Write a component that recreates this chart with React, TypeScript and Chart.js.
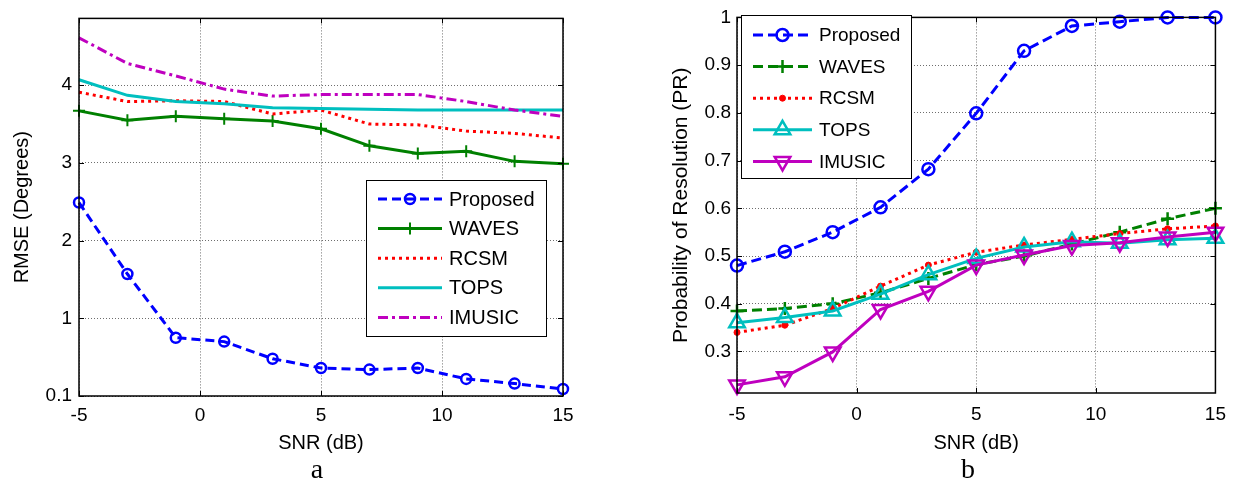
import React, { useEffect, useRef } from 'react';
import { Chart, registerables } from 'chart.js';

Chart.register(...registerables);

const FONT = "'Liberation Sans', Arial, Helvetica, sans-serif";

// ---------- data ----------
const snr = [-5, -3, -1, 1, 3, 5, 7, 9, 11, 13, 15];
const xTickValues = [-5, 0, 5, 10, 15];
const seriesNames = ['Proposed', 'WAVES', 'RCSM', 'TOPS', 'IMUSIC'];

// panel a: RMSE (Degrees)
const rmseProposed = [2.49, 1.57, 0.75, 0.7, 0.48, 0.36, 0.34, 0.36, 0.22, 0.16, 0.09];
const rmseWaves = [3.67, 3.55, 3.6, 3.57, 3.54, 3.44, 3.22, 3.12, 3.15, 3.02, 2.99];
const rmseRcsm = [3.91, 3.79, 3.8, 3.79, 3.63, 3.68, 3.5, 3.49, 3.41, 3.38, 3.32];
const rmseTops = [4.07, 3.87, 3.79, 3.76, 3.71, 3.7, 3.69, 3.68, 3.68, 3.68, 3.68];
const rmseImusic = [4.61, 4.28, 4.12, 3.95, 3.86, 3.88, 3.88, 3.88, 3.79, 3.68, 3.6];
const rmseTickValues = [0, 1, 2, 3, 4];
const rmseTickLabels = ['0.1', '1', '2', '3', '4'];

// panel b: Probability of Resolution (PR)
const prProposed = [0.48, 0.509, 0.55, 0.602, 0.682, 0.799, 0.93, 0.982, 0.991, 1.0, 1.0];
const prWaves = [0.385, 0.39, 0.4, 0.423, 0.453, 0.482, 0.5, 0.525, 0.55, 0.578, 0.6];
const prRcsm = [0.34, 0.355, 0.39, 0.437, 0.481, 0.508, 0.523, 0.535, 0.547, 0.557, 0.563];
const prTops = [0.36, 0.371, 0.385, 0.42, 0.461, 0.495, 0.519, 0.53, 0.527, 0.534, 0.537];
const prImusic = [0.23, 0.247, 0.299, 0.388, 0.426, 0.481, 0.502, 0.522, 0.528, 0.54, 0.55];
const prTickValues = [0.3, 0.4, 0.5, 0.6, 0.7, 0.8, 0.9, 1.0];
const prTickLabels = ['0.3', '0.4', '0.5', '0.6', '0.7', '0.8', '0.9', '1'];

// ---------- colours ----------
const BLUE = '#0000FF';
const GREEN = '#008000';
const RED = '#FF0000';
const CYAN = '#00BFBF';
const MAGENTA = '#BF00BF';

const pts = (ys: number[]) => snr.map((x, i) => ({ x, y: ys[i] }));

function drawMarker(ctx: CanvasRenderingContext2D, ds: any, x: number, y: number) {
  const r = ds.pointRadius || 0;
  if (!r) return;
  const style = ds.pointStyle || 'circle';
  const rot = ((ds.pointRotation || 0) * Math.PI) / 180;
  ctx.save();
  ctx.setLineDash([]);
  ctx.lineWidth = ds.pointBorderWidth ?? 1;
  ctx.strokeStyle = ds.pointBorderColor || ds.borderColor;
  ctx.fillStyle = ds.pointBackgroundColor || 'transparent';
  ctx.beginPath();
  if (style === 'circle') {
    ctx.arc(x, y, r, 0, Math.PI * 2);
    ctx.fill();
    ctx.stroke();
  } else if (style === 'cross') {
    ctx.moveTo(x, y - r);
    ctx.lineTo(x, y + r);
    ctx.moveTo(x - r, y);
    ctx.lineTo(x + r, y);
    ctx.stroke();
  } else if (style === 'triangle') {
    let a = rot;
    ctx.moveTo(x + Math.sin(a) * r, y - Math.cos(a) * r);
    a += (2 * Math.PI) / 3;
    ctx.lineTo(x + Math.sin(a) * r, y - Math.cos(a) * r);
    a += (2 * Math.PI) / 3;
    ctx.lineTo(x + Math.sin(a) * r, y - Math.cos(a) * r);
    ctx.closePath();
    ctx.fill();
    ctx.stroke();
  }
  ctx.restore();
}

const framePlugin = {
  id: 'matlabFrame',
  afterDraw(chart: any, _args: any, opts: any) {
    const ctx: CanvasRenderingContext2D = chart.ctx;
    const { left, right, top, bottom } = chart.chartArea;
    const xs = chart.scales.x;
    const ys = chart.scales.y;
    ctx.save();
    ctx.setLineDash([]);
    ctx.strokeStyle = '#000';
    ctx.lineWidth = 1;
    const tl = 5;
    ctx.beginPath();
    xs.ticks.forEach((t: any) => {
      const px = Math.round(xs.getPixelForValue(t.value)) + 0.5;
      ctx.moveTo(px, bottom);
      ctx.lineTo(px, bottom - tl);
      ctx.moveTo(px, top);
      ctx.lineTo(px, top + tl);
    });
    ys.ticks.forEach((t: any) => {
      const py = Math.round(ys.getPixelForValue(t.value)) + 0.5;
      ctx.moveTo(left, py);
      ctx.lineTo(left + tl, py);
      ctx.moveTo(right, py);
      ctx.lineTo(right - tl, py);
    });
    ctx.stroke();
    ctx.lineWidth = 1.5;
    ctx.strokeRect(left, top, right - left, bottom - top);

    // legend box
    const L = opts.legend;
    if (L) {
      ctx.fillStyle = '#fff';
      ctx.fillRect(L.x, L.y, L.w, L.h);
      ctx.lineWidth = 1;
      ctx.strokeStyle = '#000';
      ctx.strokeRect(L.x + 0.5, L.y + 0.5, L.w, L.h);
      ctx.font = `${L.fontSize}px ${FONT}`;
      ctx.textBaseline = 'middle';
      ctx.textAlign = 'left';
      chart.data.datasets.forEach((ds: any, i: number) => {
        const y = L.y0 + i * L.dy;
        ctx.save();
        ctx.strokeStyle = ds.borderColor;
        ctx.lineWidth = ds.borderWidth;
        ctx.setLineDash(ds.borderDash || []);
        ctx.beginPath();
        ctx.moveTo(L.x1, y);
        ctx.lineTo(L.x2, y);
        ctx.stroke();
        ctx.restore();
        drawMarker(ctx, ds, (L.x1 + L.x2) / 2, y);
        ctx.fillStyle = '#000';
        ctx.fillText(ds.label, L.textX, y + 1);
      });
    }
    ctx.restore();
  },
};

function baseOptions(p: any) {
  const tickFont = { family: FONT, size: 19 };
  return {
    responsive: false,
    animation: false,
    events: [],
    layout: { padding: { left: 0, top: p.padTop, right: p.padRight, bottom: 0 } },
    plugins: {
      legend: { display: false },
      tooltip: { enabled: false },
      matlabFrame: { legend: p.legend },
    },
    elements: { line: { tension: 0 } },
    scales: {
      x: {
        type: 'linear',
        min: -5,
        max: 15,
        afterBuildTicks: (s: any) => {
          s.ticks = xTickValues.map((v) => ({ value: v }));
        },
        afterFit: (s: any) => {
          s.height = p.xHeight;
        },
        grid: { color: '#6e6e6e', lineWidth: 1, drawTicks: false },
        border: { display: false, dash: [1, 2] },
        ticks: {
          font: tickFont,
          color: '#000',
          padding: p.xPad,
          autoSkip: false,
          maxRotation: 0,
          callback: (v: any) => String(v),
        },
        title: {
          display: true,
          text: 'SNR (dB)',
          color: '#000',
          font: { family: FONT, size: 20 },
          padding: { top: 0, bottom: 31 },
        },
      },
      y: {
        type: 'linear',
        min: p.yMin,
        max: p.yMax,
        afterBuildTicks: (s: any) => {
          s.ticks = p.yTicks.map((v: number) => ({ value: v }));
        },
        afterFit: (s: any) => {
          s.width = p.yWidth;
        },
        grid: { color: '#6e6e6e', lineWidth: 1, drawTicks: false },
        border: { display: false, dash: [1, 2] },
        ticks: {
          font: tickFont,
          color: '#000',
          padding: p.yPad,
          autoSkip: false,
          callback: (v: any) => {
            const idx = p.yTicks.findIndex((t: number) => Math.abs(t - v) < 1e-9);
            return idx >= 0 ? p.yLabels[idx] : '';
          },
        },
        title: {
          display: true,
          text: p.yTitle,
          color: '#000',
          font: { family: FONT, size: p.yTitleSize },
          padding: { top: p.yTitlePad, bottom: 0 },
        },
      },
    },
  };
}

function configA() {
  const datasets = [
    {
      label: seriesNames[0], data: pts(rmseProposed), borderColor: BLUE, borderWidth: 3, borderDash: [9, 5],
      pointStyle: 'circle', pointRadius: 5, pointBorderWidth: 2.5, pointBorderColor: BLUE, pointBackgroundColor: 'transparent',
    },
    {
      label: seriesNames[1], data: pts(rmseWaves), borderColor: GREEN, borderWidth: 3, borderDash: [],
      pointStyle: 'cross', pointRadius: 6, pointBorderWidth: 2, pointBorderColor: GREEN, pointBackgroundColor: 'transparent',
    },
    { label: seriesNames[2], data: pts(rmseRcsm), borderColor: RED, borderWidth: 3, borderDash: [3, 4], pointRadius: 0 },
    { label: seriesNames[3], data: pts(rmseTops), borderColor: CYAN, borderWidth: 3, borderDash: [], pointRadius: 0 },
    { label: seriesNames[4], data: pts(rmseImusic), borderColor: MAGENTA, borderWidth: 3, borderDash: [10, 4, 3, 4], pointRadius: 0 },
  ].map((d, i) => ({ ...d, clip: false, fill: false, order: -i }));
  return {
    type: 'line',
    data: { datasets },
    options: baseOptions({
      padTop: 8, padRight: 55, xHeight: 90, yWidth: 79, xPad: 8, yPad: 7,
      yMin: 0, yMax: 4.86, yTicks: rmseTickValues, yLabels: rmseTickLabels,
      yTitle: 'RMSE (Degrees)', yTitleSize: 20, yTitlePad: 10,
      legend: { x: 366, y: 180, w: 180, h: 156, y0: 199, dy: 29.6, x1: 378, x2: 442, textX: 449, fontSize: 20 },
    }),
    plugins: [framePlugin],
  };
}

function configB() {
  const datasets = [
    {
      label: seriesNames[0], data: pts(prProposed), borderColor: BLUE, borderWidth: 3, borderDash: [10, 5],
      pointStyle: 'circle', pointRadius: 6, pointBorderWidth: 2.5, pointBorderColor: BLUE, pointBackgroundColor: 'transparent',
    },
    {
      label: seriesNames[1], data: pts(prWaves), borderColor: GREEN, borderWidth: 3, borderDash: [10, 5],
      pointStyle: 'cross', pointRadius: 6.5, pointBorderWidth: 2.5, pointBorderColor: GREEN, pointBackgroundColor: 'transparent',
    },
    {
      label: seriesNames[2], data: pts(prRcsm), borderColor: RED, borderWidth: 3, borderDash: [3, 4],
      pointStyle: 'circle', pointRadius: 3, pointBorderWidth: 1, pointBorderColor: RED, pointBackgroundColor: RED,
    },
    {
      label: seriesNames[3], data: pts(prTops), borderColor: CYAN, borderWidth: 3, borderDash: [],
      pointStyle: 'triangle', pointRadius: 9, pointBorderWidth: 2.5, pointBorderColor: CYAN, pointBackgroundColor: 'transparent',
    },
    {
      label: seriesNames[4], data: pts(prImusic), borderColor: MAGENTA, borderWidth: 3, borderDash: [],
      pointStyle: 'triangle', pointRotation: 180, pointRadius: 9, pointBorderWidth: 2.5, pointBorderColor: MAGENTA,
      pointBackgroundColor: 'transparent',
    },
  ].map((d, i) => ({ ...d, clip: false, fill: false, order: -i }));
  return {
    type: 'line',
    data: { datasets },
    options: baseOptions({
      padTop: 12, padRight: 16, xHeight: 93, yWidth: 119, xPad: 10, yPad: 6,
      yMin: 0.213, yMax: 1.0, yTicks: prTickValues, yLabels: prTickLabels,
      yTitle: 'Probability of Resolution (PR)', yTitleSize: 21, yTitlePad: 51,
      legend: { x: 123, y: 15, w: 170, h: 163, y0: 35, dy: 31.6, x1: 135, x2: 194, textX: 201, fontSize: 19 },
    }),
    plugins: [framePlugin],
  };
}

function Panel({ make, left }: { make: () => any; left: number }) {
  const ref = useRef<HTMLCanvasElement | null>(null);
  useEffect(() => {
    if (!ref.current) return;
    const chart = new Chart(ref.current, make());
    return () => chart.destroy();
  }, [make]);
  return (
    <canvas
      ref={ref}
      width={618}
      height={486}
      style={{ position: 'absolute', left, top: 0, width: 618, height: 486 }}
    />
  );
}

const captionStyle: React.CSSProperties = {
  position: 'absolute',
  top: 455,
  width: 40,
  textAlign: 'center',
  fontFamily: "'Liberation Serif', 'Times New Roman', serif",
  fontSize: 28,
  lineHeight: '28px',
  color: '#000',
};

export default function App() {
  return (
    <div style={{ position: 'absolute', left: 0, top: 0, width: 1236, height: 486, background: '#fff', overflow: 'hidden' }}>
      <Panel make={configA} left={0} />
      <Panel make={configB} left={618} />
      <div style={{ ...captionStyle, left: 297 }}>a</div>
      <div style={{ ...captionStyle, left: 948 }}>b</div>
    </div>
  );
}
